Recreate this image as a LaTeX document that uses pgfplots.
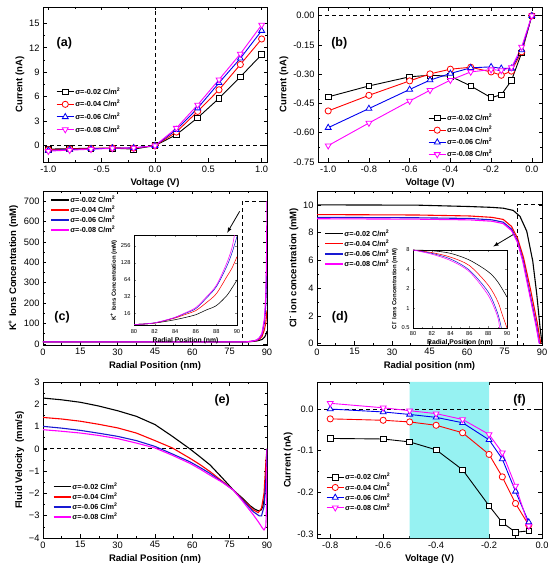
\documentclass[border=0pt]{standalone}
\usepackage{fontspec}
\setmainfont{Liberation Sans}
\usepackage{pgfplots}
\pgfplotsset{compat=1.18}
\definecolor{mblue}{RGB}{0,0,240}
\definecolor{lblue}{RGB}{25,25,210}
\definecolor{mmag}{RGB}{255,0,255}
\definecolor{mcyan}{RGB}{150,242,242}
\newcommand{\sg}[1]{σ=-0.0#1 C/m\textsuperscript{2}}
\pgfplotsset{
  panel/.style={scale only axis, tick align=inside, minor tick num=1,
    /pgf/number format/assume math mode=true,
    tick label style={font=\fontsize{9.3}{10}\selectfont},
    label style={font=\bfseries\fontsize{9.5}{11}\selectfont},
    major tick length=3.5pt, minor tick length=2pt,
    every axis plot/.append style={line width=0.9pt},
    legend style={draw=none, fill=none, font=\bfseries\fontsize{7.3}{8}\selectfont, anchor=north west, row sep=0pt, nodes={inner sep=1pt}},
    legend cell align=left,
    axis line style={line width=0.7pt},
    every tick/.style={black, line width=0.6pt},
  },
  lpanel/.style={panel, every axis plot/.append style={line width=1.1pt}, legend image post style={line width=1.5pt}},
  inset/.style={scale only axis, tick align=inside,
    /pgf/number format/assume math mode=true,
    axis background/.style={fill=white},
    tick label style={font=\fontsize{5.7}{6}\selectfont},
    xlabel style={font=\bfseries\fontsize{6.8}{7}\selectfont, yshift=3pt},
    ylabel style={font=\bfseries\fontsize{6}{6.5}\selectfont, yshift=-3pt},
    major tick length=2pt, minor tick length=1pt,
    every axis plot/.append style={line width=0.55pt, smooth},
    xmin=80, xmax=90, xtick={80,82,...,90}, minor x tick num=1,
  },
  sq/.style={black, mark=square*, mark size=2.8pt, mark options={fill=white, solid, line width=0.8pt}},
  ci/.style={red, mark=*, mark size=3.1pt, mark options={fill=white, solid, line width=0.8pt}},
  tu/.style={mblue, mark=triangle*, mark size=3.4pt, mark options={fill=white, solid, line width=0.8pt}},
  td/.style={mmag, mark=triangle*, mark size=3.4pt, mark options={fill=white, solid, line width=0.8pt, rotate=180}},
  zl/.style={black, dash pattern=on 4pt off 3pt, line width=0.8pt, forget plot},
}
\begin{document}
\begin{tikzpicture}
\path[use as bounding box] (0pt,0pt) rectangle (550pt,568pt);

% (a)
\begin{axis}[panel, at={(43pt,406pt)}, anchor=south west, width=224pt, height=155pt,
  xmin=-1.05, xmax=1.05, ymin=-2, ymax=17,
  xtick={-1,-0.5,0,0.5,1}, ytick={0,3,6,9,12,15},
  xticklabel style={/pgf/number format/.cd, fixed, fixed zerofill, precision=1},
  xlabel={Voltage (V)}, ylabel={Current (nA)}, ylabel style={yshift=-2pt},
  legend style={at={(0.045,0.5)}, row sep=2.5pt}]
\addplot[zl] coordinates {(-1.05,0) (1.05,0)};
\addplot[zl] coordinates {(0,-2) (0,17)};
\addplot[sq] coordinates {(-1,-0.42)(-0.8,-0.36)(-0.6,-0.31)(-0.4,-0.31)(-0.2,-0.42)(0,0)(0.2,1.35)(0.4,3.42)(0.6,5.8)(0.8,8.44)(1.0,11.17)};
\addplot[ci] coordinates {(-1,-0.49)(-0.8,-0.41)(-0.6,-0.33)(-0.4,-0.27)(-0.2,-0.29)(0,0)(0.2,1.67)(0.4,4.2)(0.6,6.85)(0.8,9.95)(1.0,13.08)};
\addplot[tu] coordinates {(-1,-0.58)(-0.8,-0.48)(-0.6,-0.38)(-0.4,-0.30)(-0.2,-0.27)(0,0)(0.2,1.95)(0.4,4.6)(0.6,7.7)(0.8,10.7)(1.0,14.1)};
\addplot[td] coordinates {(-1,-0.67)(-0.8,-0.55)(-0.6,-0.44)(-0.4,-0.33)(-0.2,-0.28)(0,0)(0.2,2.16)(0.4,5.0)(0.6,8.1)(0.8,11.25)(1.0,14.8)};
\legend{\sg{2},\sg{4},\sg{6},\sg{8}}
\node[font=\bfseries\fontsize{12.5}{14}\selectfont] at (rel axis cs:0.095,0.768) {(a)};
\end{axis}

% (b)
\begin{axis}[panel, at={(318pt,406pt)}, anchor=south west, width=224pt, height=155pt,
  xmin=-1.05, xmax=0.05, ymin=-0.75, ymax=0.045,
  xtick={-1,-0.8,...,0}, ytick={-0.75,-0.6,-0.45,-0.3,-0.15,0},
  xticklabel style={/pgf/number format/.cd, fixed, fixed zerofill, precision=1},
  yticklabel style={/pgf/number format/.cd, fixed, fixed zerofill, precision=2},
  xlabel={Voltage (V)}, ylabel={Current (nA)}, ylabel style={yshift=-2pt},
  legend style={at={(0.478,0.33)}, row sep=2pt}]
\addplot[zl] coordinates {(-1.05,0) (0.05,0)};
\addplot[sq] coordinates {(-1,-0.416)(-0.8,-0.36)(-0.6,-0.313)(-0.5,-0.305)(-0.4,-0.31)(-0.3,-0.36)(-0.2,-0.42)(-0.15,-0.405)(-0.1,-0.332)(-0.05,-0.19)(0,0)};
\addplot[ci] coordinates {(-1,-0.488)(-0.8,-0.408)(-0.6,-0.334)(-0.5,-0.298)(-0.4,-0.274)(-0.3,-0.264)(-0.2,-0.288)(-0.15,-0.305)(-0.1,-0.284)(-0.05,-0.185)(0,0)};
\addplot[tu] coordinates {(-1,-0.574)(-0.8,-0.476)(-0.6,-0.378)(-0.5,-0.33)(-0.4,-0.296)(-0.3,-0.267)(-0.2,-0.262)(-0.15,-0.27)(-0.1,-0.27)(-0.05,-0.176)(0,0)};
\addplot[td] coordinates {(-1,-0.666)(-0.8,-0.55)(-0.6,-0.437)(-0.5,-0.382)(-0.4,-0.33)(-0.3,-0.288)(-0.2,-0.276)(-0.15,-0.28)(-0.1,-0.265)(-0.05,-0.16)(0,0)};
\legend{\sg{2},\sg{4},\sg{6},\sg{8}}
\node[font=\bfseries\fontsize{12.5}{14}\selectfont] at (rel axis cs:0.095,0.768) {(b)};
\end{axis}

% (c)
\begin{axis}[lpanel, at={(43pt,223pt)}, anchor=south west, width=224pt, height=154pt,
  xmin=0, xmax=90, ymin=-5, ymax=750,
  xtick={0,15,...,90}, ytick={0,100,...,700},
  xlabel={Radial Position (nm)}, ylabel={K\textsuperscript{+} Ions Concentration (mM)}, ylabel style={yshift=-1pt},
  legend style={at={(0.02,0.99)}}]
\addplot[zl] coordinates {(80,-5) (80,700) (90,700)};
\addplot[black] coordinates {(0,10)(80,10)(81,10.3)(82,10.7)(84,12.3)(85,13.5)(86,15.1)(87,18.3)(88,22)(89,33)(89.5,45)(90,63)};
\addplot[red] coordinates {(0,10)(80,10)(81,10.3)(82,10.7)(84,13.0)(85,15.3)(86,17.6)(87,24.6)(88,36)(89,72)(89.5,102)(90,165)};
\addplot[lblue] coordinates {(0,10)(80,10)(81,10.3)(82,10.8)(84,13.5)(85,16)(86,19.4)(87,29.6)(88,48)(89,110)(89.5,190)(90,420)};
\addplot[mmag] coordinates {(0,10)(80,10)(81,10.3)(82,10.8)(84,13.6)(85,16.4)(86,20.3)(87,31)(88,51)(89,126)(89.5,234)(89.8,400)(90,700)};
\legend{\sg{2},\sg{4},\sg{6},\sg{8}}
\node[font=\bfseries\fontsize{12.5}{14}\selectfont] at (rel axis cs:0.085,0.18) {(c)};
\draw[-latex, line width=0.8pt] (axis cs:79,650) -- (axis cs:74,545);
\end{axis}
\begin{axis}[inset, ymode=log, log basis y=2, at={(134pt,242.3pt)}, anchor=south west, width=103pt, height=90.7pt,
  ymin=9.6, ymax=403, ytick={16,32,64,128,256}, yticklabels={16,32,64,128,256},
  xlabel={Radial Position (nm)}, ylabel={K\textsuperscript{+} Ions Concentration (mM)}]
\addplot[black] coordinates {(80,10.1)(81,10.3)(82,10.7)(83,11.4)(84,12.3)(85,13.5)(86,15.1)(87,18.3)(88,22)(89,33)(89.5,45)(90,63)};
\addplot[red] coordinates {(80,10.1)(81,10.3)(82,10.7)(83,11.8)(84,13.2)(85,15.3)(86,17.9)(87,24.6)(88,36)(89,72)(89.5,102)(90,165)};
\addplot[lblue] coordinates {(80,10.1)(81,10.3)(82,10.8)(83,11.9)(84,13.5)(85,16)(86,19.4)(87,29.6)(88,48)(89,110)(89.5,190)(90,380)};
\addplot[mmag] coordinates {(80,10.1)(81,10.3)(82,10.8)(83,12)(84,13.6)(85,16.4)(86,20.3)(87,31)(88,51)(89,126)(89.5,234)(89.75,400)};
\end{axis}

% (d)
\begin{axis}[lpanel, at={(317pt,223pt)}, anchor=south west, width=225pt, height=154pt,
  xmin=0, xmax=90, ymin=-0.1, ymax=11,
  xtick={0,15,...,90}, ytick={0,2,...,10},
  xlabel={Radial position (nm)}, ylabel={Cl\textsuperscript{-} ion concentration (mM)}, ylabel style={yshift=-2pt},
  legend style={at={(0.02,0.77)}}]
\addplot[zl] coordinates {(80,-0.1) (80,10) (90,10)};
\addplot[black] coordinates {(0,10)(40,9.98)(61,9.88)(70,9.82)(74.5,9.76)(78.5,9.6)(81.2,9.17)(83.9,8.1)(86.3,5.95)(87.9,3.57)(89.2,1.2)(90,0)};
\addplot[red] coordinates {(0,9.3)(40,9.27)(61,9.2)(70,9.1)(74.5,8.95)(77.8,8.45)(80.2,7.6)(82.6,6.2)(85.4,3.9)(88.1,1.5)(89.2,0.3)(89.5,0)};
\addplot[lblue] coordinates {(0,9.1)(40,9.07)(61,9.02)(70,8.92)(74.5,8.75)(77.8,8.25)(80.2,7.4)(82.5,5.95)(85.2,3.57)(87.9,1.2)(88.9,0.1)(89.1,0)};
\addplot[mmag] coordinates {(0,9.0)(40,8.97)(61,8.92)(70,8.82)(74.5,8.65)(77.8,8.15)(80.2,7.3)(82.3,5.95)(85,3.57)(87.7,1.2)(88.8,0.1)(89,0)};
\legend{\sg{2},\sg{4},\sg{6},\sg{8}}
\node[font=\bfseries\fontsize{12.5}{14}\selectfont] at (rel axis cs:0.102,0.18) {(d)};
\draw[-latex, line width=0.8pt] (axis cs:78.5,7.86) -- (axis cs:70.5,7.0);
\end{axis}
\begin{axis}[inset, ymode=log, log basis y=2, at={(413pt,240pt)}, anchor=south west, width=94pt, height=78pt,
  ymin=0.5, ymax=8, ytick={0.5,1,2,4,8}, yticklabels={0.5,1,2,4,8},
  xlabel={Radial Position (nm)}, ylabel={Cl\textsuperscript{-} Ions Concentration (mM)}]
\addplot[black] coordinates {(80,8)(82,7.8)(84,7.1)(86,5.6)(88,3.7)(89,2.6)(90,1.5)};
\addplot[red] coordinates {(80,8)(82,7.3)(84,6.2)(86,4.6)(88,2.3)(89,1.3)(89.5,0.8)(90,0.5)};
\addplot[lblue] coordinates {(80,8)(82,7.1)(84,5.8)(86,3.9)(88,1.8)(89,0.85)(89.4,0.5)};
\addplot[mmag] coordinates {(80,8)(82,6.9)(84,5.5)(86,3.7)(88,1.6)(89,0.75)(89.2,0.5)};
\end{axis}

% (e)
\begin{axis}[lpanel, at={(43pt,30pt)}, anchor=south west, width=224pt, height=156pt,
  xmin=0, xmax=90, ymin=-4, ymax=3,
  xtick={0,15,...,90}, ytick={-4,-3,...,3}, yticklabels={−4,−3,−2,−1,0,1,2,3},
  xlabel={Radial Position (nm)}, ylabel={Fluid Velocity~~(mm/s)}, ylabel style={yshift=-2pt},
  legend style={at={(0.03,0.375)}}]
\addplot[zl] coordinates {(0,0) (90,0)};
\addplot[black] coordinates {(0,2.28)(7.5,2.2)(15,2.09)(22.5,1.92)(30,1.71)(37.5,1.46)(45,1.09)(52,0.56)(59,0)(63,-0.35)(67.1,-0.72)(72,-1.3)(76.5,-1.85)(80,-2.2)(83.2,-2.55)(85,-2.7)(86.5,-2.78)(87.5,-2.76)(88.3,-2.6)(89,-2.2)(89.5,-1.4)(90,0)};
\addplot[red] coordinates {(0,1.41)(7.5,1.34)(15,1.24)(22.5,1.1)(30,0.94)(37.5,0.71)(45,0.37)(52,0.04)(59,-0.42)(63,-0.7)(67.1,-1.02)(72,-1.45)(76.5,-1.85)(80,-2.25)(84.5,-2.74)(86.5,-2.86)(87.8,-2.66)(88.8,-2.0)(89.6,-0.5)(90,0)};
\addplot[lblue] coordinates {(0,1.01)(7.5,0.93)(15,0.83)(22.5,0.7)(30,0.56)(37.5,0.37)(45,0.11)(52,-0.23)(59,-0.58)(63,-0.83)(67.1,-1.1)(72,-1.48)(76.5,-1.85)(80,-2.28)(84.5,-2.82)(86.9,-3.01)(87.8,-3.01)(88.8,-2.59)(89.6,-1.4)(90,0)};
\addplot[mmag] coordinates {(0,0.86)(7.5,0.79)(15,0.71)(22.5,0.6)(30,0.46)(37.5,0.26)(45,0.04)(52,-0.29)(59,-0.65)(63,-0.9)(67.1,-1.18)(72,-1.5)(76.5,-1.85)(80,-2.32)(84.5,-2.96)(86.5,-3.27)(88.2,-3.56)(88.8,-3.64)(89.5,-3.5)(89.7,-3.0)(90,0)};
\legend{\sg{2},\sg{4},\sg{6},\sg{8}}
\node[font=\bfseries\fontsize{12.5}{14}\selectfont] at (rel axis cs:0.80,0.885) {(e)};
\end{axis}

% (f)
\begin{axis}[panel, at={(317pt,30pt)}, anchor=south west, width=225pt, height=156pt,
  xmin=-0.85, xmax=0, ymin=-0.31, ymax=0.065,
  xtick={-0.8,-0.6,...,0}, ytick={-0.3,-0.2,-0.1,0},
  xticklabel style={/pgf/number format/.cd, fixed, fixed zerofill, precision=1},
  yticklabel style={/pgf/number format/.cd, fixed, fixed zerofill, precision=1},
  xlabel={Voltage (V)}, ylabel={Current (nA)}, ylabel style={yshift=-2pt},
  legend style={at={(0.027,0.435)}}]
\addplot[fill=mcyan, draw=none, forget plot] coordinates {(-0.5,-0.31) (-0.2,-0.31) (-0.2,0.065) (-0.5,0.065)} \closedcycle;
\addplot[zl] coordinates {(-0.85,0) (0,0)};
\addplot[sq] coordinates {(-0.8,-0.0707)(-0.6,-0.072)(-0.5,-0.079)(-0.4,-0.098)(-0.3,-0.146)(-0.2,-0.2325)(-0.15,-0.273)(-0.1,-0.296)(-0.05,-0.293)};
\addplot[ci] coordinates {(-0.8,-0.0236)(-0.6,-0.027)(-0.5,-0.031)(-0.4,-0.039)(-0.3,-0.057)(-0.2,-0.109)(-0.15,-0.163)(-0.1,-0.227)(-0.05,-0.279)};
\addplot[tu] coordinates {(-0.8,0.0)(-0.6,-0.007)(-0.5,-0.013)(-0.4,-0.02)(-0.3,-0.033)(-0.2,-0.074)(-0.15,-0.12)(-0.1,-0.198)(-0.05,-0.272)};
\addplot[td] coordinates {(-0.8,0.0138)(-0.6,0.003)(-0.5,-0.004)(-0.4,-0.011)(-0.3,-0.025)(-0.2,-0.061)(-0.15,-0.105)(-0.1,-0.185)(-0.05,-0.281)};
\legend{\sg{2},\sg{4},\sg{6},\sg{8}}
\node[font=\bfseries\fontsize{12.5}{14}\selectfont] at (rel axis cs:0.90,0.885) {(f)};
\end{axis}
\end{tikzpicture}
\end{document}
